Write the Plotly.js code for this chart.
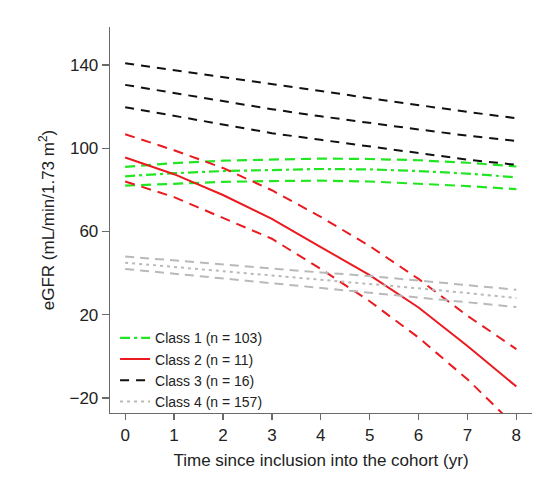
<!DOCTYPE html>
<html>
<head>
<meta charset="utf-8">
<script src="https://cdn.plot.ly/plotly-3.0.1.min.js"></script>
<style>html,body{margin:0;padding:0;background:#fff;}#chart{width:549px;height:478px;}</style>
</head>
<body>
<div id="chart"></div>
<script>
const years = [0, 1, 2, 3, 4, 5, 6, 7, 8];

const class1Hi  = [91.0, 92.8, 94.0, 94.6, 95.0, 94.8, 94.2, 93.0, 91.2];
const class1Mid = [86.5, 88.0, 89.0, 89.6, 90.0, 89.8, 89.0, 87.8, 86.0];
const class1Lo  = [82.0, 83.0, 83.8, 84.2, 84.4, 84.0, 83.0, 81.8, 80.3];

const class2Hi  = [106.7, 99.0, 90.5, 79.8, 67.0, 53.0, 37.2, 19.5, 3.5];
const class2Mid = [95.5, 87.5, 77.5, 66.0, 52.5, 39.0, 23.5, 5.0, -14.5];
const class2Lo  = [84.0, 76.5, 66.5, 56.5, 42.0, 26.5, 9.0, -11.0, -34.0];

const class3Hi  = [140.8, 137.5, 134.4, 131.0, 127.5, 124.0, 120.6, 117.4, 114.4];
const class3Mid = [130.4, 126.5, 122.5, 118.7, 115.3, 112.0, 109.0, 106.0, 103.5];
const class3Lo  = [119.7, 115.5, 111.3, 107.2, 104.0, 100.8, 97.6, 94.5, 92.0];

const class4Hi  = [48.0, 46.0, 44.0, 42.0, 40.3, 38.6, 36.3, 34.2, 32.0];
const class4Mid = [45.0, 43.0, 41.0, 39.0, 37.0, 35.0, 32.7, 30.4, 28.0];
const class4Lo  = [42.0, 39.7, 37.4, 35.0, 32.8, 30.6, 28.3, 26.0, 23.7];

const classNames = ['Class 1 (n = 103)', 'Class 2 (n = 11)', 'Class 3 (n = 16)', 'Class 4 (n = 157)'];
const yTicks = [-20, 20, 60, 100, 140];
const xTicks = [0, 1, 2, 3, 4, 5, 6, 7, 8];

const GREEN = '#22e622', RED = '#ea1a1f', BLACK = '#111111', GRAY = '#b9b9b9';

function tr(y, color, dash, width, name, show, group) {
  return {x: years, y: y, mode: 'lines', name: name, showlegend: show, legendgroup: group,
          line: {color: color, dash: dash, width: width}, hoverinfo: 'skip'};
}

const data = [
  tr(class1Mid, GREEN, '10px,4px,3px,4px', 2.2, classNames[0], true, 'c1'),
  tr(class1Hi,  GREEN, '10px,6px', 2.2, classNames[0], false, 'c1'),
  tr(class1Lo,  GREEN, '10px,6px', 2.2, classNames[0], false, 'c1'),
  tr(class2Mid, RED, 'solid', 2, classNames[1], true, 'c2'),
  tr(class2Hi,  RED, '10px,7px', 2, classNames[1], false, 'c2'),
  tr(class2Lo,  RED, '10px,7px', 2, classNames[1], false, 'c2'),
  tr(class3Mid, BLACK, '9px,7px', 2, classNames[2], true, 'c3'),
  tr(class3Hi,  BLACK, '9px,7px', 2, classNames[2], false, 'c3'),
  tr(class3Lo,  BLACK, '9px,7px', 2, classNames[2], false, 'c3'),
  tr(class4Mid, GRAY, '3px,4px', 2, classNames[3], true, 'c4'),
  tr(class4Hi,  GRAY, '9px,6px', 2, classNames[3], false, 'c4'),
  tr(class4Lo,  GRAY, '9px,6px', 2, classNames[3], false, 'c4')
];

const FONT = '"Liberation Sans", Arial, sans-serif';

const layout = {
  width: 549, height: 478,
  margin: {l: 110, r: 17, t: 27, b: 65},
  paper_bgcolor: '#fff', plot_bgcolor: '#fff',
  font: {family: FONT, size: 17, color: '#222'},
  showlegend: true,
  legend: {x: 0.012, y: 0.235, xanchor: 'left', yanchor: 'top', bgcolor: 'rgba(0,0,0,0)',
           font: {family: FONT, size: 14, color: '#222'}, tracegroupgap: 0, itemwidth: 30},
  xaxis: {
    range: [-0.31, 8.32], tickvals: xTicks, ticktext: xTicks.map(String),
    showgrid: false, zeroline: false, showline: true, linecolor: '#6a6a6a', linewidth: 1.3,
    ticks: 'outside', ticklen: 6, tickcolor: '#6a6a6a', tickwidth: 1.3,
    tickfont: {family: FONT, size: 17, color: '#222'},
    title: {text: 'Time since inclusion into the cohort (yr)', font: {family: FONT, size: 17, color: '#222'}, standoff: 10}
  },
  yaxis: {
    range: [-27.2, 158.2], tickvals: yTicks, ticktext: yTicks.map(v => v < 0 ? '\u2212' + Math.abs(v) : String(v)),
    showgrid: false, zeroline: false, showline: true, linecolor: '#6a6a6a', linewidth: 1.3,
    ticks: 'outside', ticklen: 7, tickcolor: '#6a6a6a', tickwidth: 1.3,
    tickfont: {family: FONT, size: 17, color: '#222'},
    title: {text: 'eGFR (mL/min/1.73 m<sup>2</sup>)', font: {family: FONT, size: 17, color: '#222'}, standoff: 10}
  }
};

Plotly.newPlot('chart', data, layout, {displayModeBar: false, staticPlot: true});
</script>
</body>
</html>
